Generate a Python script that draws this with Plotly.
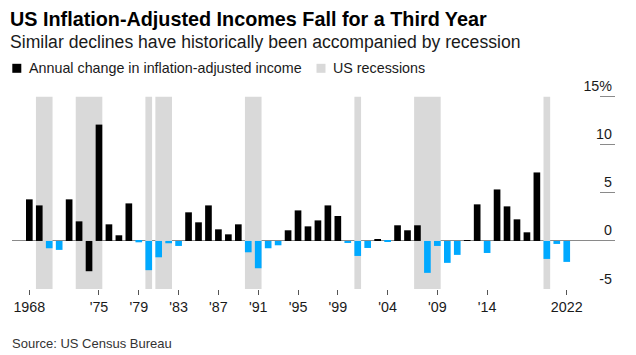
import plotly.graph_objects as go

# ---- data ----
years = list(range(1968, 2023))
income_change = [
    4.33, 3.70, -0.76, -0.93, 4.33, 2.04, -3.15, 12.11, 1.73, 0.59,   # 1968-1977
    3.91, -0.14, -3.04, -1.70, -0.24, -0.52, 2.98, 1.94, 3.70, 1.21,  # 1978-1987
    0.69, 1.73, -1.18, -2.84, -0.76, -0.45, 1.11, 3.18, 1.52, 2.14,   # 1988-1997
    3.70, 2.60, -0.21, -1.56, -0.73, 0.14, -0.10, 1.63, 1.11, 1.63,   # 1998-2007
    -3.32, -0.52, -2.28, -1.45, 0.05, 3.81, -1.25, 5.36, 3.60, 2.25,  # 2008-2017
    0.90, 7.13, -1.87, -0.31, -2.18,                                  # 2018-2022
]
black_negative_years = [1974]

recession_start = [1969, 1973, 1980, 1981, 1990, 2001, 2007, 2020]
recession_end = [1970, 1975, 1980, 1982, 1991, 2001, 2009, 2020]

x_tick_years = [1968, 1975, 1979, 1983, 1987, 1991, 1995, 1999, 2004, 2009, 2014, 2022]
x_tick_labels = ["1968", "'75", "'79", "'83", "'87", "'91", "'95", "'99", "'04", "'09", "'14", "2022"]
y_tick_values = [-5, 0, 5, 10, 15]
y_tick_labels = ["-5", "0", "5", "10", "15%"]

title = "US Inflation-Adjusted Incomes Fall for a Third Year"
subtitle = "Similar declines have historically been accompanied by recession"
source = "Source: US Census Bureau"
series_name = "Annual change in inflation-adjusted income"
recession_name = "US recessions"

# ---- styling ----
FONT = "Liberation Sans, Arial, Helvetica, sans-serif"
BLACK = "#000000"
BLUE = "#00a9ff"
GRAY = "#d9d9d9"
AXIS_GRAY = "#8a8a8a"
TEXT = "#1a1a1a"
BAR_W = 0.67

# the page body adds an 8px offset; work in reference-page pixels and subtract it
OFF = 8
W, H = 636 - OFF, 355 - OFF
PX_PER_PCT = 9.6
Y_TOP = 18.0                      # headroom so the top tick label is drawn
L = 12 - OFF
R = 636 - 615
B = 355 - 289
T = (97 - OFF) - (Y_TOP - 15) * PX_PER_PCT
plot_h = H - T - B
plot_w = W - L - R


def py(ypix):            # reference page pixel -> paper y
    return (H - B - (ypix - OFF)) / plot_h


def px(xpix):            # reference page pixel -> paper x
    return ((xpix - OFF) - L) / plot_w


bar_colors = [BLUE if (v < 0 and y not in black_negative_years) else BLACK
              for y, v in zip(years, income_change)]

rec_center = [(s + e) / 2 for s, e in zip(recession_start, recession_end)]
rec_width = [(e - s) + BAR_W for s, e in zip(recession_start, recession_end)]
y_lo, y_hi = y_tick_values[0], y_tick_values[-1]

fig = go.Figure()
fig.add_trace(go.Bar(
    x=rec_center, y=[y_hi - y_lo] * len(rec_center), base=[y_lo] * len(rec_center),
    width=rec_width, marker=dict(color=GRAY, line=dict(width=0)),
    name=recession_name, showlegend=False, hoverinfo="skip",
))
fig.add_trace(go.Bar(
    x=years, y=income_change, width=BAR_W,
    marker=dict(color=bar_colors, line=dict(width=0)),
    name=series_name, showlegend=False,
))

# legend drawn as swatches + labels
legend_items = [(series_name, BLACK, 12.3, 27.7), (recession_name, GRAY, 316.5, 331.5)]
shapes, annotations = [], []
for name, col, sx, tx in legend_items:
    shapes.append(dict(type="rect", xref="paper", yref="paper",
                       x0=px(sx), x1=px(sx + 9), y0=py(73), y1=py(64),
                       fillcolor=col, line=dict(width=0), layer="above"))
    annotations.append(dict(text=name, xref="paper", yref="paper", x=px(tx), y=py(68.5),
                            xanchor="left", yanchor="middle", showarrow=False,
                            xshift=-1, font=dict(size=14.3, color=TEXT)))

annotations += [
    dict(text=f"<b>{title}</b>", xref="paper", yref="paper", x=px(7.5), y=py(19),
         xanchor="left", yanchor="middle", showarrow=False,
         font=dict(size=19.8, color="#000000")),
    dict(text=subtitle, xref="paper", yref="paper", x=px(7.5), y=py(42.5),
         xanchor="left", yanchor="middle", showarrow=False,
         font=dict(size=17.6, color=TEXT)),
    dict(text=source, xref="paper", yref="paper", x=px(10), y=py(343),
         xanchor="left", yanchor="middle", showarrow=False,
         font=dict(size=13, color="#333333")),
]

fig.update_layout(
    width=W, height=H,
    margin=dict(l=L, r=R, t=T, b=B, pad=0, autoexpand=False),
    paper_bgcolor="white", plot_bgcolor="white",
    barmode="overlay",
    font=dict(family=FONT, size=14, color=TEXT),
    showlegend=False,
    xaxis=dict(range=[1966.26, 2026.85], tickmode="array", tickvals=x_tick_years,
               ticktext=x_tick_labels, ticks="outside", ticklen=5, tickwidth=1,
               tickcolor="#555555", showgrid=False, zeroline=False, showline=False,
               tickfont=dict(size=14.3, color=TEXT)),
    yaxis=dict(range=[y_lo, Y_TOP], side="right", tickmode="array", tickvals=y_tick_values,
               ticktext=y_tick_labels, ticks="inside", ticklen=15, tickwidth=1,
               tickcolor=AXIS_GRAY, showgrid=False, zeroline=True, zerolinecolor=AXIS_GRAY,
               zerolinewidth=1, showline=False, ticklabelposition="inside top",
               tickfont=dict(size=14.3, color=TEXT)),
    shapes=shapes,
    annotations=annotations,
)

fig.write_html("out.html")
